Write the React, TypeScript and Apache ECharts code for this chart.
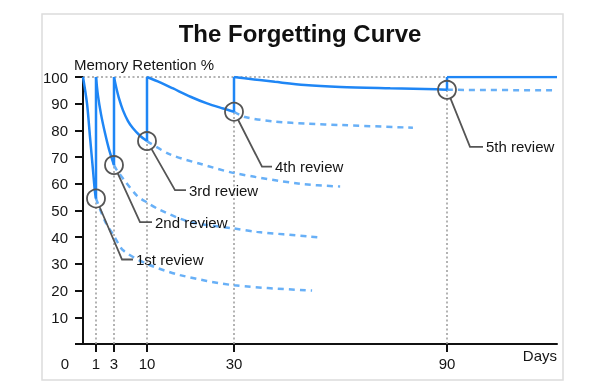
import React, { useEffect, useRef } from "react";
import * as echarts from "echarts";

// ---- data (days, retention %) ----
const REVIEW_DAYS = [1, 3, 10, 30, 90];
const REVIEW_VALUES = [54.5, 67, 76, 87, 95.2];
const REVIEW_LABELS = ["1st review", "2nd review", "3rd review", "4th review", "5th review"];
const X_TICK_DAYS = [1, 3, 10, 30, 90];

// retention after each review (solid)
const RETAIN_0 = [[0, 100], [0.31, 90], [0.54, 77.5], [0.77, 65], [0.92, 57], [1, 54.5]];
const RETAIN_1 = [[1, 100], [1.22, 93], [1.56, 86], [2, 79], [2.44, 73], [3, 67]];
const RETAIN_2 = [[3, 100], [3.42, 96.5], [4.06, 92], [4.91, 87.5], [5.97, 83.5], [7.03, 80.8], [8.52, 78], [10, 76]];
const RETAIN_3 = [[10, 100], [13, 98], [16, 95.7], [20, 92.6], [23.8, 90.1], [27.5, 88.2], [30, 87]];
const RETAIN_4 = [[30, 100], [33, 99.5], [41.5, 98.2], [50, 97], [60, 96.3], [74, 95.8], [87, 95.4], [90, 95.2]];
const RETAIN_5 = [[90, 100], [121, 100]];

// forgetting without further review (dashed)
const DECAY_1 = [[1, 54.5], [2, 46], [3, 40.5], [5, 35], [10, 30], [17.6, 25.8], [30, 22], [52, 20]];
const DECAY_2 = [[3, 67], [3.64, 65], [5.33, 61], [7.9, 55.5], [10, 53], [13, 50.2], [19.9, 45.7], [29.8, 43.3], [36.4, 42], [53.7, 40]];
const DECAY_3 = [[10, 76], [15.3, 71], [22.2, 67.5], [30.2, 64], [48.6, 60], [59.9, 59]];
const DECAY_4 = [[30, 87], [33.1, 85], [41.5, 83.3], [50.8, 82.5], [60.4, 82], [80.4, 81]];
const DECAY_5 = [[90, 95.2], [121, 95]];

// ---- non-linear x scale (days -> axis units), as drawn in the original ----
const X_KNOT_DAYS = [0, 1, 3, 10, 30, 90, 121];
const X_KNOT_POS = [0, 13, 31, 64, 151, 364, 474];
function toAxis(day: number): number {
  for (let i = 1; i < X_KNOT_DAYS.length; i++) {
    if (day <= X_KNOT_DAYS[i]) {
      const d0 = X_KNOT_DAYS[i - 1], d1 = X_KNOT_DAYS[i];
      const p0 = X_KNOT_POS[i - 1], p1 = X_KNOT_POS[i];
      return p0 + ((day - d0) / (d1 - d0)) * (p1 - p0);
    }
  }
  return X_KNOT_POS[X_KNOT_POS.length - 1];
}

// ---- styles / layout ----
const FONT = "'Liberation Sans', Arial, Helvetica, sans-serif";
const BLUE = "#1f86f5";
const BLUE_LIGHT = "#68b0f7";
const GRAY = "#555";
const TEXT = "#151515";
// leader offsets (px): dx, dy to elbow, horizontal length
const LEADERS = [
  [26, 61, 11],
  [26, 57, 12],
  [28, 49, 11],
  [28, 55, 10],
  [23, 57, 13],
];

export default function App() {
  const ref = useRef<HTMLDivElement>(null);
  useEffect(() => {
    if (!ref.current) return;
    const chart = echarts.init(ref.current, undefined, { renderer: "svg" });
    const conv = (arr: number[][]) => arr.map(([d, v]) => [toAxis(d), v]);
    const tickPos = X_TICK_DAYS.map(toAxis);

    const jumps: any[] = [];
    REVIEW_DAYS.forEach((d, i) => {
      if (i > 0) jumps.push("-");
      jumps.push([toAxis(d), REVIEW_VALUES[i]], [toAxis(d), 100]);
    });

    const solid = [RETAIN_0, RETAIN_1, RETAIN_2, RETAIN_3, RETAIN_4, RETAIN_5].map((s) => ({
      type: "line",
      data: conv(s),
      smooth: 0.3,
      showSymbol: false,
      symbol: "none",
      z: 4,
      lineStyle: { color: BLUE, width: 2.5 },
      silent: true,
    }));
    const dashed = [DECAY_1, DECAY_2, DECAY_3, DECAY_4, DECAY_5].map((s) => ({
      type: "line",
      data: conv(s),
      smooth: 0.3,
      showSymbol: false,
      symbol: "none",
      z: 3,
      lineStyle: { color: BLUE_LIGHT, width: 2.5, type: [6, 5] },
      silent: true,
    }));

    const markData: any[] = [
      [{ coord: [0, 100] }, { coord: [toAxis(90), 100] }],
      ...tickPos.map((p) => [{ coord: [p, 0] }, { coord: [p, 100] }]),
    ];

    chart.setOption({
      animation: false,
      textStyle: { fontFamily: FONT },
      grid: { left: 83, right: 34, top: 77, bottom: 47 },
      xAxis: {
        type: "value",
        min: 0,
        max: X_KNOT_POS[X_KNOT_POS.length - 1],
        splitLine: { show: false },
        axisLine: { lineStyle: { color: "#111", width: 2 } },
        axisTick: { show: true, customValues: tickPos, length: 8, lineStyle: { color: "#111", width: 2 } },
        axisLabel: {
          customValues: tickPos,
          margin: 12,
          fontSize: 15,
          color: TEXT,
          fontFamily: FONT,
          formatter: (v: number) => {
            const i = tickPos.findIndex((p) => Math.abs(p - v) < 1e-6);
            return i >= 0 ? String(X_TICK_DAYS[i]) : "";
          },
        },
      },
      yAxis: {
        type: "value",
        min: 0,
        max: 100,
        interval: 10,
        splitLine: { show: false },
        axisLine: { show: true, lineStyle: { color: "#111", width: 2 } },
        axisTick: { show: true, length: 8, lineStyle: { color: "#111", width: 2 } },
        axisLabel: {
          margin: 15,
          fontSize: 15,
          color: TEXT,
          fontFamily: FONT,
          formatter: (v: number) => (v === 0 ? "" : String(v)),
        },
      },
      graphic: [
        {
          type: "rect",
          shape: { x: 42, y: 14, width: 521, height: 366 },
          style: { fill: "none", stroke: "#dcdcdc", lineWidth: 1.5 },
          z: -10,
          silent: true,
        },
        {
          type: "text",
          x: 300,
          y: 33,
          style: { text: "The Forgetting Curve", fontSize: 24, fontWeight: "bold", fill: "#111", align: "center", verticalAlign: "middle", fontFamily: FONT },
        },
        {
          type: "text",
          x: 74,
          y: 64,
          style: { text: "Memory Retention %", fontSize: 15, fill: TEXT, align: "left", verticalAlign: "middle", fontFamily: FONT },
        },
        {
          type: "text",
          x: 65,
          y: 363,
          style: { text: "0", fontSize: 15, fill: TEXT, align: "center", verticalAlign: "middle", fontFamily: FONT },
        },
        {
          type: "text",
          x: 557,
          y: 355,
          style: { text: "Days", fontSize: 15, fill: TEXT, align: "right", verticalAlign: "middle", fontFamily: FONT },
        },
      ],
      series: [
        {
          type: "line",
          data: jumps,
          showSymbol: false,
          symbol: "none",
          z: 4,
          connectNulls: false,
          lineStyle: { color: BLUE, width: 2.5 },
          silent: true,
          markLine: {
            silent: true,
            symbol: ["none", "none"],
            label: { show: false },
            z: 1,
            lineStyle: { color: "#9a9a9a", width: 1.5, type: [2, 2.5] },
            data: markData,
          },
        },
        ...solid,
        ...dashed,
        {
          type: "custom",
          z: 6,
          silent: true,
          data: REVIEW_DAYS.map((d, i) => [toAxis(d), REVIEW_VALUES[i]]),
          renderItem: (params: any, api: any) => {
            const i = params.dataIndex;
            const p = api.coord([api.value(0), api.value(1)]);
            const [dx, dy, h] = LEADERS[i];
            const r = 9;
            const len = Math.sqrt(dx * dx + dy * dy);
            const sx = p[0] + (dx / len) * r;
            const sy = p[1] + (dy / len) * r;
            const ex = p[0] + dx;
            const ey = p[1] + dy;
            return {
              type: "group",
              children: [
                { type: "circle", shape: { cx: p[0], cy: p[1], r }, style: { fill: "none", stroke: GRAY, lineWidth: 1.8 } },
                { type: "polyline", shape: { points: [[sx, sy], [ex, ey], [ex + h, ey]] }, style: { fill: "none", stroke: GRAY, lineWidth: 1.8 } },
                {
                  type: "text",
                  style: { text: REVIEW_LABELS[i], x: ex + h + 3, y: ey, fontSize: 15, fill: TEXT, align: "left", verticalAlign: "middle", fontFamily: FONT },
                },
              ],
            };
          },
        },
      ],
    });
    return () => chart.dispose();
  }, []);
  return <div ref={ref} style={{ position: "fixed", left: 0, top: 0, width: 591, height: 391 }} />;
}
